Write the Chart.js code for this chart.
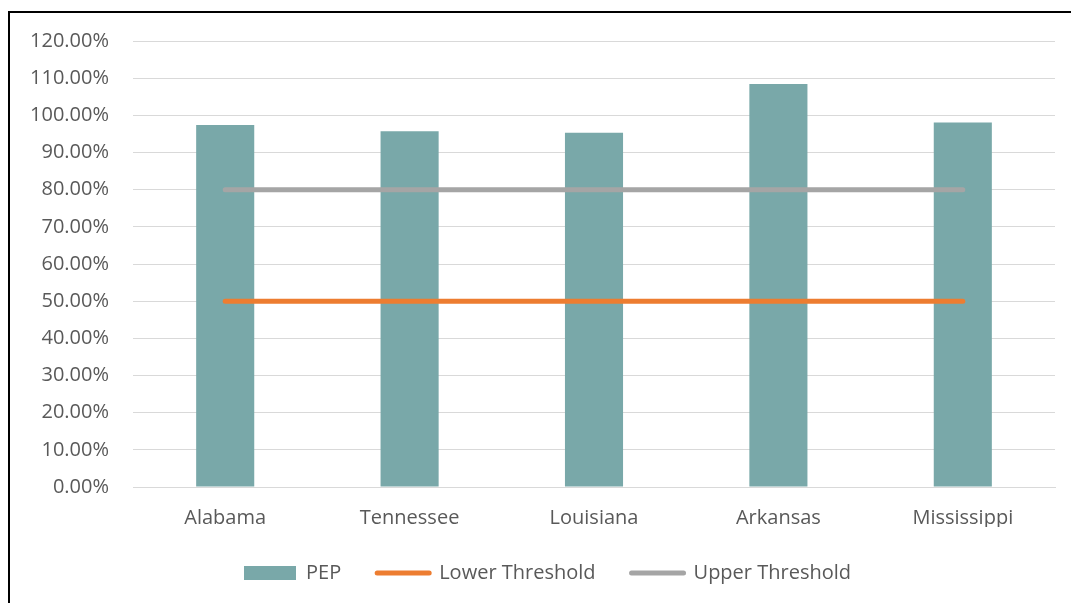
<!DOCTYPE html>
<html>
<head>
<meta charset="utf-8">
<script src="https://cdn.jsdelivr.net/npm/chart.js@4/dist/chart.umd.min.js"></script>
<style>
  html, body { margin: 0; padding: 0; background: #fff; }
  #wrap { position: relative; width: 1071px; height: 603px; overflow: hidden; }
  #chart { position: absolute; left: 0; top: 0; }
  #frame {
    position: absolute; left: 8px; top: 11px; width: 1200px; height: 700px;
    border-top: 2px solid #000; border-left: 2px solid #000; pointer-events: none;
  }
</style>
</head>
<body>
<div id="wrap">
  <canvas id="chart" width="1071" height="603"></canvas>
  <div id="frame"></div>
</div>
<script>
// States and their PEP values (percent)
const states = ['Alabama', 'Tennessee', 'Louisiana', 'Arkansas', 'Mississippi'];
const pepValues = [97.4, 95.7, 95.3, 108.4, 98.1];
const lowerThreshold = [50, 50, 50, 50, 50];
const upperThreshold = [80, 80, 80, 80, 80];
const yTicks = [0, 10, 20, 30, 40, 50, 60, 70, 80, 90, 100, 110, 120];

const FONT = '"Open Sans", sans-serif';
const TEXT = '#595959';

// Legend row is centred inside the framed area, which starts a little to the right
const legendInset = {
  id: 'legendInset',
  afterLayout(chart) {
    if (chart.legend) chart.legend.left += 40;
  }
};

new Chart(document.getElementById('chart'), {
  data: {
    labels: states,
    datasets: [
      {
        type: 'bar', label: 'PEP', data: pepValues, order: 2,
        backgroundColor: '#79A8A9', borderWidth: 0,
        barPercentage: 0.315, categoryPercentage: 1
      },
      {
        type: 'line', label: 'Lower Threshold', data: lowerThreshold, order: 1,
        borderColor: '#ED7D31', backgroundColor: '#ED7D31', borderWidth: 5,
        borderCapStyle: 'round', pointRadius: 0, pointHoverRadius: 0, fill: false
      },
      {
        type: 'line', label: 'Upper Threshold', data: upperThreshold, order: 1,
        borderColor: '#A5A5A5', backgroundColor: '#A5A5A5', borderWidth: 5,
        borderCapStyle: 'round', pointRadius: 0, pointHoverRadius: 0, fill: false
      }
    ]
  },
  plugins: [legendInset],
  options: {
    responsive: false,
    animation: false,
    devicePixelRatio: 1,
    layout: { padding: { left: 0, right: 16, top: 41, bottom: 10 } },
    scales: {
      x: {
        grid: { display: false },
        border: { display: true, color: '#D9D9D9', width: 1 },
        ticks: { color: TEXT, font: { family: FONT, size: 20 }, padding: 11, maxRotation: 0 },
        afterFit: (s) => { s.height = 40; }
      },
      y: {
        min: 0, max: 120,
        afterBuildTicks: (s) => { s.ticks = yTicks.map(v => ({ value: v })); },
        grid: { color: '#D9D9D9', lineWidth: 1, drawTicks: false },
        border: { display: false },
        ticks: {
          color: TEXT, font: { family: FONT, size: 20 }, padding: 24,
          callback: (v) => Number(v).toFixed(2) + '%'
        },
        afterFit: (s) => { s.width = 133; }
      }
    },
    plugins: {
      tooltip: { enabled: false },
      legend: {
        position: 'bottom',
        labels: {
          color: TEXT,
          font: { family: FONT, size: 20 },
          usePointStyle: true,
          pointStyleWidth: 52,
          boxHeight: 14,
          padding: 36,
          generateLabels: (chart) => chart.data.datasets.map((ds, i) => ({
            text: ds.label,
            datasetIndex: i,
            fillStyle: ds.backgroundColor,
            strokeStyle: ds.type === 'bar' ? ds.backgroundColor : ds.borderColor,
            lineWidth: ds.type === 'bar' ? 0 : 5,
            lineCap: 'round',
            pointStyle: ds.type === 'bar' ? 'rect' : 'line',
            fontColor: TEXT,
            hidden: false
          }))
        }
      }
    }
  }
});
</script>
</body>
</html>
